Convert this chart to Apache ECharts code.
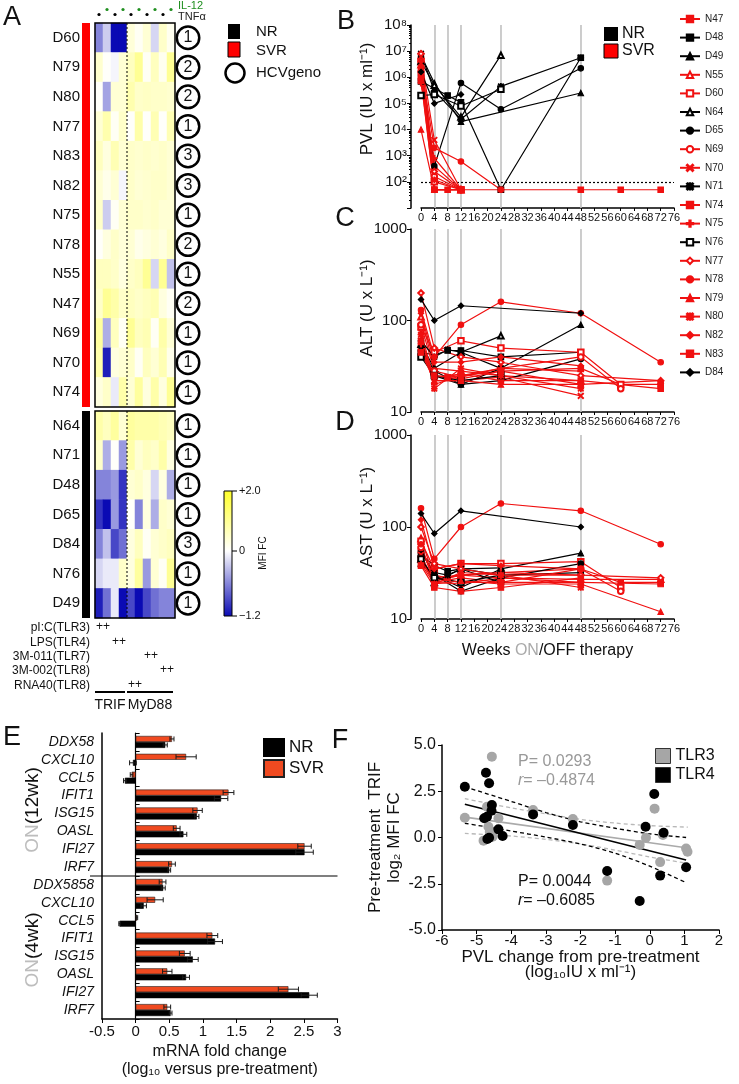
<!DOCTYPE html>
<html><head><meta charset="utf-8">
<script src="https://cdn.jsdelivr.net/npm/echarts@6/dist/echarts.min.js"></script>
<style>html,body{margin:0;padding:0;background:#fff}#c{width:739px;height:1084px}</style>
</head><body><div id="c"></div>
<script>
// ================= DATA =================
// Panel A heatmap
const heatCols = ['pI:C TNFα','pI:C IL-12','LPS TNFα','LPS IL-12','RNA40 TNFα','RNA40 IL-12','3M-011 TNFα','3M-011 IL-12','3M-002 TNFα','3M-002 IL-12'];
const svrPatients = ['D60','N79','N80','N77','N83','N82','N75','N78','N55','N47','N69','N70','N74'];
const svrGeno = [1,2,2,1,3,3,1,2,1,2,1,1,1];
const svrHeat = [
  [-0.6,-0.25,-1.2,-1.2,0.35,0.1,0.4,-0.2,0.5,0.15],
  [0.45,0.05,-0.05,0.4,0.6,1.0,0.1,0.6,0.15,1.0],
  [0.05,-0.45,0.4,0.4,0.75,0.5,0.55,0.5,0.5,0.45],
  [0.4,0.75,0.1,0.5,0.05,0.8,0.05,0.7,0.05,0.7],
  [0.6,0.3,0.7,0.4,0.5,0.45,0.5,0.45,0.5,0.4],
  [0.4,0.2,0.4,-0.05,0.5,0.4,0.45,0.5,0.5,0.4],
  [0.5,-0.25,0.1,0.4,0.5,0.5,0.45,0.5,0.4,0.4],
  [0.05,0.3,0.5,0.35,0.4,0.2,0.3,0.4,0.3,0.5],
  [0.6,0.6,0.5,0.3,0.5,0.6,1.0,-0.2,1.0,-0.3],
  [0.5,1.0,0.8,0.5,0.6,0.5,0.6,0.7,0.3,0.1],
  [0.9,-0.4,0.6,0.1,1.0,0.6,0.7,0.1,0.8,0.4],
  [0.8,-1.1,0.3,0.4,0.5,0.1,0.6,0.4,0.7,0.2],
  [0.3,0.5,-0.1,0.8,0.4,0.9,0.3,0.8,0.3,1.0]
];
const nrPatients = ['N64','N71','D48','D65','D84','N76','D49'];
const nrGeno = [1,1,1,1,3,1,1];
const nrHeat = [
  [0.8,0.6,0.9,0.4,0.9,0.8,0.8,0.8,0.7,0.6],
  [0.5,-0.4,0.05,-0.5,0.8,0.4,0.6,0.5,0.8,0.3],
  [-0.6,-0.6,-0.5,-1.0,0.4,0.5,0.3,-0.2,0.3,-0.4],
  [-1.0,-1.2,-0.5,-1.0,0.05,-0.6,0.3,-0.4,0.5,0.4],
  [-0.6,-0.3,-0.9,-0.7,0.3,0.6,0.1,0.4,0.5,0.6],
  [-0.2,-0.1,-0.1,0.5,0.3,0.9,-0.5,0.4,0.1,1.0],
  [-1.1,-0.7,-0.1,-1.2,-0.9,-1.2,-0.9,-0.7,-0.6,-0.6]
];
const stimuli = ['pI:C(TLR3)','LPS(TLR4)','3M-011(TLR7)','3M-002(TLR8)','RNA40(TLR8)'];
const stimFirstCol = [0,2,6,8,4];
const pathways = [['TRIF',0,4],['MyD88',4,10]];
const colorbarTicks = [['+2.0',2],['0',0],['\u22121.2',-1.2]];

// Panels B-D
const patients = ['N47','D48','D49','N55','D60','N64','D65','N69','N70','N71','N74','N75','N76','N77','N78','N79','N80','N82','N83','D84'];
const outcome  = ['SVR','NR','NR','SVR','SVR','NR','NR','SVR','SVR','NR','SVR','SVR','NR','SVR','SVR','SVR','SVR','SVR','SVR','NR'];
const weekMarks = [4,8,12,24,48];
const pvlLOD = 100;
const pvl = [
  [[0,5e6],[4,50],[8,50],[12,50],[24,50],[48,50],[60,50],[72,50]],
  [[0,7e5],[8,2e5],[12,1.1e5],[24,50],[48,5.6e6]],
  [[0,7e6],[4,6e5],[12,2e4],[48,2.5e5]],
  [[0,3e6],[4,400],[12,50]],
  [[0,4e6],[4,100],[12,50]],
  [[0,4e6],[4,5e5],[12,3e4],[24,7e6]],
  [[0,1.2e6],[4,400],[12,6e5],[24,6e4],[48,2.2e6]],
  [[0,1.6e6],[4,160],[12,50]],
  [[0,6e6],[4,4e3],[12,50]],
  [[0,8e6],[4,3e5],[12,2.5e4],[24,4.5e5],[48,5.6e6]],
  [[0,1e6],[4,50],[12,50]],
  [[0,6e5],[4,800],[12,50]],
  [[0,2e5],[4,2.2e5],[12,8e4],[24,3.5e5]],
  [[0,8e6],[4,250],[12,50]],
  [[0,2.5e6],[4,2e3],[12,600],[24,50]],
  [[0,1e4],[4,50],[12,50]],
  [[0,2e6],[4,120],[12,50]],
  [[0,4e6],[4,50],[12,50]],
  [[0,8e5],[4,50],[12,50]],
  [[0,1.6e6],[4,1e5],[12,2.2e5]]
];
const alt = [
  [[0,50],[4,25],[8,24],[12,25],[24,28],[48,30],[60,20],[72,20]],
  [[0,45],[4,42],[8,47],[12,47],[24,40],[48,45]],
  [[0,50],[4,28],[12,20],[24,30],[48,90]],
  [[0,110],[4,30],[12,28],[24,25],[48,22]],
  [[0,85],[4,45],[12,60],[24,50],[48,45],[60,20]],
  [[0,55],[4,30],[12,45],[24,68]],
  [[0,45],[4,25],[12,20],[24,22],[48,38]],
  [[0,90],[4,28],[12,24],[24,30],[48,40],[60,18]],
  [[0,75],[4,22],[12,22],[24,24],[48,15]],
  [[0,60],[4,40],[8,48],[12,45],[24,30]],
  [[0,60],[4,24],[12,26],[24,22],[48,22],[72,18]],
  [[0,55],[4,20],[12,25],[24,30],[48,28]],
  [[0,40],[4,25],[12,22],[24,25]],
  [[0,200],[4,50],[12,40],[24,35],[48,25],[72,22]],
  [[0,130],[4,40],[12,90],[24,160],[48,120],[72,35]],
  [[0,45],[4,22],[12,22],[24,20],[48,20],[72,22]],
  [[0,70],[4,18],[12,30],[24,25],[48,18]],
  [[0,120],[4,35],[12,35],[24,40],[48,32]],
  [[0,45],[4,25],[12,23],[24,28],[48,20]],
  [[0,170],[4,100],[12,145],[48,120]]
];
const ast = [
  [[0,55],[4,30],[8,28],[12,30],[24,32],[48,35],[60,25],[72,25]],
  [[0,50],[4,38],[8,33],[12,35],[24,30],[48,32]],
  [[0,40],[4,30],[12,22],[24,35],[48,52]],
  [[0,75],[4,28],[12,30],[24,28],[48,27],[72,27]],
  [[0,70],[4,35],[12,40],[24,40],[48,42],[60,22]],
  [[0,45],[4,25],[12,35],[24,36]],
  [[0,55],[4,30],[12,20],[24,28],[48,40]],
  [[0,60],[4,28],[12,25],[24,25],[48,35],[60,20]],
  [[0,50],[4,25],[12,24],[24,28],[48,25]],
  [[0,38],[4,32],[8,30],[12,35],[24,25]],
  [[0,45],[4,25],[12,28],[24,25],[48,25],[72,24]],
  [[0,42],[4,26],[12,30],[24,32],[48,30]],
  [[0,45],[4,28],[12,25],[24,30]],
  [[0,100],[4,40],[12,35],[24,30],[48,30],[72,28]],
  [[0,160],[4,45],[12,100],[24,180],[48,150],[72,65]],
  [[0,40],[4,24],[12,26],[24,24],[48,24],[72,12]],
  [[0,65],[4,24],[12,32],[24,30],[48,22]],
  [[0,120],[4,35],[12,40],[24,38],[48,35]],
  [[0,38],[4,22],[12,20],[24,22],[48,28]],
  [[0,140],[4,85],[12,150],[48,100]]
];

// Panel E
const geneLabels = ['DDX58','CXCL10','CCL5','IFIT1','ISG15','OASL','IFI27','IRF7','DDX5858','CXCL10','CCL5','IFIT1','ISG15','OASL','IFI27','IRF7'];
const svrMean = [0.54,0.75,-0.06,1.38,0.92,0.61,2.51,0.54, 0.40,0.29,0.02,1.14,0.73,0.47,2.27,0.47];
const svrErr  = [0.03,0.15,0.02,0.08,0.07,0.05,0.10,0.05, 0.05,0.12,0.01,0.08,0.08,0.07,0.15,0.05];
const nrMean  = [0.44,-0.04,-0.16,1.27,0.91,0.71,2.51,0.50, 0.41,0.12,-0.24,1.18,0.85,0.75,2.58,0.52];
const nrErr   = [0.03,0.05,0.02,0.10,0.03,0.05,0.13,0.02, 0.03,0.04,0.01,0.11,0.08,0.05,0.12,0.02];

// Panel F
const tlr3 = [[-4.56,4.37],[-5.34,1.07],[-4.70,1.66],[-4.66,0.58],[-4.37,1.04],[-4.80,-0.17],[-4.54,0.04],[-4.62,0.3],[-3.37,1.49],[-2.22,1.0],[-1.23,-2.33],[0.14,1.56],[-0.11,-0.01],[-0.29,-0.40],[0.38,0.14],[0.30,-1.33],[1.05,-0.59],[1.09,-0.77]];
const tlr4 = [[-5.34,2.74],[-4.73,3.50],[-4.64,2.93],[-4.56,1.76],[-4.57,1.45],[-4.78,1.04],[-4.70,1.12],[-4.64,-0.01],[-4.69,-0.08],[-4.37,0.44],[-4.25,0.08],[-3.37,1.25],[-2.22,0.68],[-1.23,-1.81],[-0.12,0.58],[0.13,2.35],[0.40,0.26],[0.30,-2.06],[1.05,-1.61],[-0.29,-3.43]];
const tlr3Fit = [[-5.34,1.1],[1.1,-0.57]];
const tlr3Upper = [[-5.34,2.1],[-4,1.6],[-3,1.28],[-2,0.98],[-1,0.78],[0,0.64],[1.1,0.56]];
const tlr3Lower = [[-5.34,0.22],[-4,0.08],[-3,-0.1],[-2,-0.35],[-1,-0.68],[0,-1.05],[1.1,-1.4]];
const tlr4Fit = [[-5.34,1.8],[1.05,-1.22]];
const tlr4Upper = [[-5.34,2.74],[-4,1.95],[-3,1.35],[-2,0.85],[-1,0.5],[0,0.2],[1.05,0.0]];
const tlr4Lower = [[-5.34,0.77],[-4,0.35],[-3,0.02],[-2,-0.35],[-1,-0.85],[0,-1.55],[1.05,-2.44]];
const statsTLR3 = ['0.0293','\u20130.4874'];
const statsTLR4 = ['0.0044','\u20130.6085'];

// ================= STYLE / LAYOUT =================
const FONT = '"Liberation Sans", Arial, Helvetica, sans-serif';
const RED = '#f01010';
const BARRED = '#f04a20';
const SUP = ['⁰','¹','²','³','⁴','⁵','⁶','⁷','⁸','⁹'];
const CROSS = 'path://M1,0L5,4L9,0L10,1L6,5L10,9L9,10L5,6L1,10L0,9L4,5L0,1Z';
const PLUS  = 'path://M4,0H6V4H10V6H6V10H4V6H0V4H4Z';
const STAR  = 'path://M4.4,0H5.6V4.4H10V5.6H5.6V10H4.4V5.6H0V4.4H4.4Z M1,0.2L5,4.2L9,0.2L9.8,1L5.8,5L9.8,9L9,9.8L5,5.8L1,9.8L0.2,9L4.2,5L0.2,1Z';
const DASH  = 'path://M0,4H10V6H0Z';
const markers = ['rect','rect','triangle','emptyTriangle','emptyRect','emptyTriangle','circle','emptyCircle',CROSS,STAR,DASH,PLUS,'emptyRect','emptyDiamond','circle','triangle',STAR,'diamond',DASH,'diamond'];

const HM = {left:95, width:80, top1:23, h1:384, top2:411, h2:207};
const cellW = HM.width / heatCols.length;
const GB = {left:421, width:253};
const E = {left:102, top:733, width:235.5, height:286};
const E_BAR_W = 6;

const grids = [
  {left:HM.left, top:HM.top1, width:HM.width, height:HM.h1},
  {left:HM.left, top:HM.top2, width:HM.width, height:HM.h2},
  {left:GB.left, top:25, width:GB.width, height:183},
  {left:GB.left, top:229, width:GB.width, height:183},
  {left:GB.left, top:435, width:GB.width, height:184},
  {left:E.left, top:E.top, width:E.width, height:E.height},
  {left:442, top:745, width:277, height:185}
].map(g => Object.assign({outerBoundsMode:'none', containLabel:false}, g));

function txt(x, y, text, o) {
  o = o || {};
  const st = {text:text, fill:o.fill || '#111', fontSize:o.size || 14, fontFamily:FONT,
    fontStyle:o.italic ? 'italic' : 'normal', align:o.align || 'left', verticalAlign:o.va || 'middle'};
  if (o.rich) st.rich = o.rich;
  return {type:'text', x:x, y:y, rotation:o.rot || 0, z:100, silent:true, style:st};
}
function line(x1,y1,x2,y2,o){ o=o||{}; return {type:'line', z:100, silent:true, shape:{x1,y1,x2,y2}, style:{stroke:o.stroke||'#000', lineWidth:o.w||1, lineDash:o.dash||null}}; }
function rect(x,y,w,h,o){ o=o||{}; return {type:'rect', z:o.z||100, silent:true, shape:{x,y,width:w,height:h}, style:{fill:o.fill||'none', stroke:o.stroke||null, lineWidth:o.w||1}}; }

const lblBase = {color:'#111', fontFamily:FONT};

// ================= AXES =================
const circleRich = {c:{width:20, height:20, lineHeight:20, align:'center', borderColor:'#000', borderWidth:2.5, borderRadius:12, fontSize:16, fontFamily:FONT, color:'#111', backgroundColor:'#fff'}};
const xAxis = [
  {type:'category', gridIndex:0, data:heatCols, show:false},
  {type:'category', gridIndex:1, data:heatCols, show:false}
];
const yAxis = [
  {type:'category', gridIndex:0, data:svrPatients, inverse:true, axisLine:{show:false}, axisTick:{show:false}, axisLabel:Object.assign({fontSize:15, margin:15, interval:0}, lblBase)},
  {type:'category', gridIndex:0, data:svrPatients, inverse:true, position:'right', axisLine:{show:false}, axisTick:{show:false}, axisLabel:{margin:3, interval:0, formatter:(v,i)=>'{c|'+svrGeno[i]+'}', rich:circleRich}},
  {type:'category', gridIndex:1, data:nrPatients, inverse:true, axisLine:{show:false}, axisTick:{show:false}, axisLabel:Object.assign({fontSize:15, margin:15, interval:0}, lblBase)},
  {type:'category', gridIndex:1, data:nrPatients, inverse:true, position:'right', axisLine:{show:false}, axisTick:{show:false}, axisLabel:{margin:3, interval:0, formatter:(v,i)=>'{c|'+nrGeno[i]+'}', rich:circleRich}}
];
// B, C, D
for (let p = 0; p < 3; p++) {
  const xa = {type:'value', gridIndex:2+p, min:0, max:76, interval:4,
    axisLine:{show:true, onZero:false, lineStyle:{color:'#000', width:1.5}},
    axisTick:{show:true, length:3, lineStyle:{color:'#000'}},
    axisLabel:Object.assign({fontSize:11, margin:4}, lblBase), splitLine:{show:false}};
  if (p === 2) {
    xa.name = 'Weeks {g|ON}/OFF therapy'; xa.nameLocation = 'middle'; xa.nameGap = 24;
    xa.nameTextStyle = {fontSize:16, color:'#111', fontFamily:FONT, rich:{g:{color:'#aaa', fontSize:16, fontFamily:FONT}}};
  }
  xAxis.push(xa);
  yAxis.push({type:'log', logBase:10, gridIndex:2+p, min:10, max:p === 0 ? 1e8 : 1000, offset:10,
    axisLine:{show:true, onZero:false, lineStyle:{color:'#000', width:1.5}},
    axisTick:{show:true, length:4, lineStyle:{color:'#000'}},
    minorTick:{show:p === 0, splitNumber:9, length:2, lineStyle:{color:'#000'}},
    splitLine:{show:false},
    axisLabel:Object.assign({fontSize:15, margin:4, formatter:function(v){
      const e = Math.round(Math.log10(v));
      if (p === 0) return e < 2 ? '' : '10' + SUP[e];
      return String(Math.round(v));
    }}, lblBase)});
}
// E
xAxis.push({type:'value', gridIndex:5, min:-0.5, max:3, interval:0.5,
  axisLine:{show:true, onZero:false, lineStyle:{color:'#000', width:1.5}},
  axisTick:{show:true, length:4, lineStyle:{color:'#000'}}, splitLine:{show:false},
  axisLabel:Object.assign({fontSize:15, margin:5}, lblBase),
  name:'mRNA fold change\n(log₁₀ versus pre-treatment)', nameLocation:'middle', nameGap:24,
  nameTextStyle:{fontSize:16, lineHeight:18, color:'#111', fontFamily:FONT}});
yAxis.push({type:'category', gridIndex:5, data:geneLabels, inverse:true,
  axisLine:{show:true, onZero:false, lineStyle:{color:'#000', width:1.5}}, axisTick:{show:false},
  axisLabel:Object.assign({fontSize:14, fontStyle:'italic', margin:8, interval:0}, lblBase)});
yAxis.push({type:'category', gridIndex:5, data:geneLabels, inverse:true,
  axisLine:{show:true, onZero:true, lineStyle:{color:'#000', width:1.2}},
  axisTick:{show:true, length:4, lineStyle:{color:'#000'}}, axisLabel:{show:false}});
// F
xAxis.push({type:'value', gridIndex:6, min:-6, max:2, interval:1,
  axisLine:{show:true, onZero:false, lineStyle:{color:'#000', width:1.5}},
  axisTick:{show:true, length:4, lineStyle:{color:'#000'}}, splitLine:{show:false},
  axisLabel:Object.assign({fontSize:15, margin:3}, lblBase),
  name:'PVL change from pre-treatment\n(log₁₀IU x ml⁻¹)', nameLocation:'middle', nameGap:18,
  nameTextStyle:{fontSize:17, lineHeight:15, color:'#111', fontFamily:FONT}});
yAxis.push({type:'value', gridIndex:6, min:-5, max:5, interval:2.5,
  axisLine:{show:true, onZero:false, lineStyle:{color:'#000', width:1.5}},
  axisTick:{show:true, length:4, lineStyle:{color:'#000'}}, splitLine:{show:false},
  axisLabel:Object.assign({fontSize:16, margin:6, formatter:v=>v.toFixed(1)}, lblBase),
  name:'Pre-treatment  TRIF\nlog₂ MFI FC', nameLocation:'middle', nameGap:38,
  nameTextStyle:{fontSize:17, lineHeight:19, color:'#111', fontFamily:FONT}});

// ================= SERIES =================
const series = [];
series.push({type:'heatmap', xAxisIndex:0, yAxisIndex:0, silent:true, emphasis:{disabled:true},
  data:svrHeat.flatMap((row,r)=>row.map((v,c)=>[c,r,v]))});
series.push({type:'heatmap', xAxisIndex:1, yAxisIndex:2, silent:true, emphasis:{disabled:true},
  data:nrHeat.flatMap((row,r)=>row.map((v,c)=>[c,r,v]))});

[pvl, alt, ast].forEach((set, p) => {
  const ml = weekMarks.map(w => ({xAxis:w}));
  if (p === 0) ml.push({yAxis:pvlLOD, lineStyle:{type:[2,2], color:'#000', width:1.2}});
  patients.forEach((name, i) => {
    const col = outcome[i] === 'NR' ? '#000' : RED;
    const s = {type:'line', name:name, xAxisIndex:2+p, yAxisIndex:4+p, data:set[i], z:3,
      symbol:markers[i], symbolSize:5.5, showAllSymbol:true, silent:true,
      lineStyle:{color:col, width:1.2}, itemStyle:{color:col, borderColor:col, borderWidth:1.1},
      emphasis:{disabled:true}};
    if (i === 0) {
      s.markLine = {silent:true, symbol:['none','none'], label:{show:false}, z:1,
        lineStyle:{color:'#c0c0c0', width:1.6, type:'solid'}, data:ml, animation:false};
    }
    series.push(s);
  });
});

series.push({type:'bar', name:'SVR', xAxisIndex:5, yAxisIndex:7, data:svrMean, barWidth:E_BAR_W, barGap:'0%',
  itemStyle:{color:BARRED, borderColor:'#222', borderWidth:0.6}, silent:true});
series.push({type:'bar', name:'NR', xAxisIndex:5, yAxisIndex:7, data:nrMean, barWidth:E_BAR_W, barGap:'0%',
  itemStyle:{color:'#000', borderColor:'#000', borderWidth:0.6}, silent:true});
const errData = svrMean.map((m,i)=>[m,i,svrErr[i],0]).concat(nrMean.map((m,i)=>[m,i,nrErr[i],1]));
series.push({type:'custom', xAxisIndex:5, yAxisIndex:7, silent:true, z:5,
  dimensions:['mean','cat','err','grp'], encode:{x:0, y:1}, data:errData,
  renderItem:function(params, api){
    const mean = api.value(0), cat = api.value(1), err = api.value(2), g = api.value(3);
    const a = api.coord([mean-err, cat]), b = api.coord([mean+err, cat]);
    const y = a[1] + (g === 0 ? -1 : 1) * E_BAR_W / 2;
    const st = {stroke:'#1a1a1a', lineWidth:1};
    return {type:'group', children:[
      {type:'line', shape:{x1:a[0], y1:y, x2:b[0], y2:y}, style:st},
      {type:'line', shape:{x1:b[0], y1:y-2.5, x2:b[0], y2:y+2.5}, style:st},
      {type:'line', shape:{x1:a[0], y1:y-2.5, x2:a[0], y2:y+2.5}, style:st}
    ]};
  }});

const fLine = (data, color, dashed, w) => ({type:'line', xAxisIndex:6, yAxisIndex:9, data:data, showSymbol:false, symbol:'none',
  smooth:dashed ? 0.3 : false, silent:true, lineStyle:{color:color, width:w, type:dashed ? [4,3] : 'solid'}, z:2});
series.push(fLine(tlr3Upper, '#b8b8b8', true, 1.3));
series.push(fLine(tlr3Lower, '#b8b8b8', true, 1.3));
series.push(fLine(tlr3Fit, '#aaaaaa', false, 1.6));
series.push({type:'scatter', name:'TLR3', xAxisIndex:6, yAxisIndex:9, data:tlr3, symbolSize:10, silent:true, z:3,
  itemStyle:{color:'#a6a6a6', opacity:1, borderColor:'#333', borderWidth:0}});
series.push({type:'scatter', name:'TLR4', xAxisIndex:6, yAxisIndex:9, data:tlr4, symbolSize:10, silent:true, z:4,
  itemStyle:{color:'#000', opacity:1, borderColor:'#333', borderWidth:0}});
series.push(fLine(tlr4Upper, '#000', true, 1.3));
series.push(fLine(tlr4Lower, '#000', true, 1.3));
series.push(fLine(tlr4Fit, '#000', false, 1.6));

// ================= GRAPHICS =================
const G = [];
[['A',12,18],['B',346,22],['C',345,219],['D',345,423],['E',12,738],['F',340,741]].forEach(l =>
  G.push(txt(l[1], l[2], l[0], {size:27, align:'center'})));
G.push(rect(HM.left, HM.top1, HM.width, HM.h1, {stroke:'#000', w:1.5}));
G.push(rect(HM.left, HM.top2, HM.width, HM.h2, {stroke:'#000', w:1.5}));
G.push(rect(82, HM.top1, 8, HM.h1, {fill:'#ff0000'}));
G.push(rect(82, HM.top2, 8, HM.h2, {fill:'#000'}));
const divX = HM.left + 4 * cellW;
G.push(line(divX, HM.top1, divX, HM.top1 + HM.h1, {dash:[2,2], w:1}));
G.push(line(divX, HM.top2, divX, HM.top2 + HM.h2, {dash:[2,2], w:1}));
heatCols.forEach((c, i) => {
  G.push({type:'circle', z:100, silent:true, shape:{cx:HM.left + (i+0.5)*cellW, cy:i % 2 ? 9.5 : 14.5, r:1.6},
    style:{fill:i % 2 ? '#1f8f1f' : '#000'}});
});
G.push(txt(178, 6, 'IL-12', {size:11, fill:'#1f8f1f'}));
G.push(txt(178, 17, 'TNFα', {size:11, fill:'#222'}));
G.push(rect(228, 24, 12, 15, {fill:'#000'}));
G.push(rect(228, 42, 12, 15, {fill:'#ff0000', stroke:'#000', w:1}));
G.push({type:'circle', z:100, silent:true, shape:{cx:235, cy:73, r:9.5}, style:{fill:'#fff', stroke:'#000', lineWidth:2.5}});
G.push(txt(256, 32, 'NR', {size:15}));
G.push(txt(256, 51, 'SVR', {size:15}));
G.push(txt(256, 73, 'HCVgeno', {size:15}));
const CB = {x:224, y:491, w:8, h:125};
G.push({type:'rect', z:100, silent:true, shape:{x:CB.x, y:CB.y, width:CB.w, height:CB.h},
  style:{stroke:'#000', lineWidth:1, fill:{type:'linear', x:0, y:0, x2:0, y2:1, colorStops:[
    {offset:0, color:'#ffff28'}, {offset:0.48, color:'#ffffff'}, {offset:1, color:'#0a0ab4'}]}}});
colorbarTicks.forEach((t, i) => {
  const y = CB.y + CB.h * [0, 0.48, 1][i];
  G.push(line(CB.x + CB.w, y, CB.x + CB.w + 5, y, {w:1}));
  G.push(txt(CB.x + CB.w + 7, y, t[0], {size:11}));
});
G.push(txt(263, 553, 'MFI FC', {size:10, rot:Math.PI/2, align:'center'}));
stimuli.forEach((s, i) => {
  const y = 628 + i * 14.3;
  G.push(txt(90, y, s, {size:12, align:'right'}));
  G.push(txt(HM.left + (stimFirstCol[i] + 1) * cellW, y - 1, '++', {size:12, align:'center'}));
});
pathways.forEach(pw => {
  const x1 = HM.left + pw[1] * cellW, x2 = HM.left + pw[2] * cellW - 2;
  G.push(line(x1, 692, x2, 692, {w:2}));
  G.push(txt((x1 + x2) / 2, 705, pw[0], {size:14, align:'center'}));
});
G.push(txt(367, 99, 'PVL (IU x ml⁻¹)', {size:17, rot:Math.PI/2, align:'center'}));
G.push(txt(367, 308, 'ALT (U x L⁻¹)', {size:17, rot:Math.PI/2, align:'center'}));
G.push(txt(367, 517, 'AST (U x L⁻¹)', {size:17, rot:Math.PI/2, align:'center'}));
G.push(rect(604, 27, 14, 14, {fill:'#000'}));
G.push(rect(604, 44, 14, 14, {fill:'#ff0000', stroke:'#000', w:1}));
G.push(txt(622, 34, 'NR', {size:16}));
G.push(txt(622, 51, 'SVR', {size:16}));
const sepY = E.top + E.height * 8 / geneLabels.length;
G.push(line(90, sepY, E.left + E.width, sepY, {w:1.2}));
const onRich = {g:{fill:'#bdbdbd', fontSize:19, fontFamily:FONT}, k:{fill:'#111', fontSize:19, fontFamily:FONT}};
G.push(txt(33, 810, '{g|ON}{k|(12wk)}', {size:19, rot:Math.PI/2, align:'center', rich:onRich}));
G.push(txt(33, 950, '{g|ON}{k|(4wk)}', {size:19, rot:Math.PI/2, align:'center', rich:onRich}));
const statRich = (c) => ({a:{fill:c, fontSize:16, fontFamily:FONT}, i:{fill:c, fontSize:16, fontFamily:FONT, fontStyle:'italic'}});
G.push(txt(518, 762, '{a|P= ' + statsTLR3[0] + '}', {rich:statRich('#999')}));
G.push(txt(518, 781, '{i|r}{a|= ' + statsTLR3[1] + '}', {rich:statRich('#999')}));
G.push(txt(518, 882, '{a|P= ' + statsTLR4[0] + '}', {rich:statRich('#111')}));
G.push(txt(518, 901, '{i|r}{a|= ' + statsTLR4[1] + '}', {rich:statRich('#111')}));

// ================= OPTION =================
const option = {
  animation:false,
  backgroundColor:'#fff',
  textStyle:{fontFamily:FONT},
  grid:grids,
  visualMap:{type:'continuous', show:false, min:-1.2, max:2, seriesIndex:[0,1],
    inRange:{color:['#0a0ab4','#5c5ccd','#adade6','#ffffff','#ffffd4','#ffffa9','#ffff7e','#ffff53','#ffff28']}},
  legend:[
    {data:patients, orient:'vertical', left:679, top:14, itemWidth:20, itemHeight:8, itemGap:8.6, padding:0,
      selectedMode:false, textStyle:{fontSize:10, lineHeight:8, color:'#222', fontFamily:FONT}},
    {data:['NR','SVR'], orient:'vertical', left:263, top:738, itemWidth:20, itemHeight:17, itemGap:2, padding:0,
      icon:'rect', selectedMode:false, textStyle:{fontSize:17, color:'#111', fontFamily:FONT}},
    {data:['TLR3','TLR4'], orient:'vertical', left:655, top:748, itemWidth:15, itemHeight:15, itemGap:3, padding:0,
      icon:'rect', selectedMode:false, itemStyle:{borderColor:'#333', borderWidth:1},
      textStyle:{fontSize:16, color:'#111', fontFamily:FONT}}
  ],
  xAxis:xAxis,
  yAxis:yAxis,
  series:series,
  graphic:{elements:G}
};
const chart = echarts.init(document.getElementById('c'), null, {renderer:'canvas', width:739, height:1084});
chart.setOption(option);
</script>
</body></html>
